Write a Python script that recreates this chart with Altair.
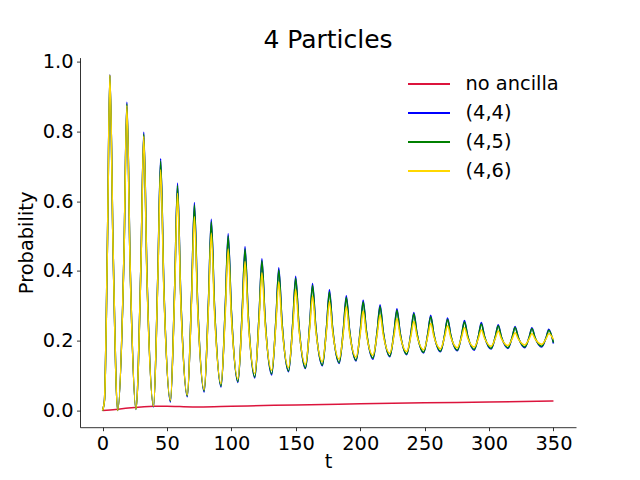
import altair as alt
import pandas as pd

# ---- values ----
start_t = [0.0, 1.5]
first_rise_t = [3.8]
peak_t = [5.7, 18.9, 32.0, 45.1, 58.2, 71.3, 84.4, 97.5, 110.6, 123.7, 136.8,
          149.9, 163.0, 176.1, 189.2, 202.3, 215.4, 228.5, 241.6, 254.7, 267.8,
          280.9, 294.0, 307.1, 320.2, 333.3, 346.4]
fall_t = [8.2, 21.4, 34.5, 47.6, 60.7, 73.8, 86.9, 100.0, 113.1, 126.2, 139.3,
          152.4, 165.5, 178.6, 191.7, 204.8, 217.9, 231.0, 244.1, 257.2, 270.3,
          283.4, 296.5, 309.6, 322.7, 335.8]
trough_t = [11.8, 25.9, 39.6, 52.7, 65.8, 78.9, 92.0, 105.1, 118.2, 131.3, 144.4,
            157.5, 170.6, 183.7, 196.8, 209.9, 223.0, 236.1, 249.2, 262.3, 275.4,
            288.5, 301.6, 314.7, 327.8, 340.9]
rise_t = [16.7, 29.8, 42.9, 56.0, 69.1, 82.2, 95.3, 108.4, 121.5, 134.6, 147.7,
          160.8, 173.9, 187.0, 200.1, 213.2, 226.3, 239.4, 252.5, 265.6, 278.7,
          291.8, 304.9, 318.0, 331.1, 344.2]
end_t = [350.0]

start_p = [0.000, 0.030]

blue_first_rise = [0.48]
blue_peaks = [0.963, 0.884, 0.798, 0.722, 0.652, 0.596, 0.548, 0.507, 0.470, 0.435,
              0.409, 0.385, 0.364, 0.346, 0.329, 0.316, 0.303, 0.292, 0.281, 0.273,
              0.265, 0.258, 0.252, 0.246, 0.241, 0.237, 0.233]
blue_mids = [0.460, 0.420, 0.385, 0.355, 0.330, 0.310, 0.300, 0.285, 0.273, 0.262,
             0.254, 0.247, 0.241, 0.236, 0.232, 0.228, 0.226, 0.223, 0.221, 0.218,
             0.216, 0.214, 0.212, 0.211, 0.210, 0.208]
blue_troughs = [0.000, 0.003, 0.010, 0.024, 0.039, 0.053, 0.067, 0.080, 0.093, 0.102,
                0.111, 0.120, 0.128, 0.135, 0.142, 0.147, 0.154, 0.160, 0.165, 0.168,
                0.171, 0.173, 0.176, 0.178, 0.180, 0.182]
blue_end = [0.192]

green_first_rise = [0.48]
green_peaks = [0.960, 0.879, 0.792, 0.715, 0.645, 0.589, 0.541, 0.500, 0.463, 0.429,
               0.403, 0.379, 0.358, 0.340, 0.324, 0.311, 0.298, 0.287, 0.277, 0.269,
               0.261, 0.254, 0.248, 0.243, 0.238, 0.234, 0.230]
green_mids = [0.459, 0.419, 0.384, 0.354, 0.329, 0.309, 0.299, 0.284, 0.272, 0.261,
              0.253, 0.246, 0.240, 0.235, 0.231, 0.228, 0.225, 0.222, 0.220, 0.218,
              0.216, 0.214, 0.212, 0.211, 0.209, 0.208]
green_troughs = [0.000, 0.004, 0.012, 0.027, 0.042, 0.056, 0.070, 0.083, 0.096, 0.105,
                 0.113, 0.122, 0.130, 0.137, 0.144, 0.150, 0.156, 0.162, 0.167, 0.170,
                 0.173, 0.175, 0.178, 0.180, 0.182, 0.184]
green_end = [0.195]

gold_first_rise = [0.48]
gold_peaks = [0.962, 0.874, 0.786, 0.690, 0.623, 0.556, 0.508, 0.463, 0.427, 0.395,
              0.369, 0.347, 0.328, 0.312, 0.298, 0.285, 0.274, 0.264, 0.255, 0.250,
              0.243, 0.237, 0.231, 0.228, 0.223, 0.221, 0.220]
gold_mids = [0.460, 0.417, 0.375, 0.343, 0.317, 0.296, 0.281, 0.268, 0.258, 0.249,
             0.240, 0.235, 0.230, 0.226, 0.222, 0.219, 0.216, 0.214, 0.213, 0.212,
             0.210, 0.208, 0.207, 0.206, 0.205, 0.205]
gold_troughs = [0.000, 0.004, 0.013, 0.030, 0.045, 0.060, 0.077, 0.091, 0.106, 0.115,
                0.123, 0.132, 0.140, 0.147, 0.153, 0.158, 0.164, 0.169, 0.174, 0.177,
                0.180, 0.182, 0.184, 0.186, 0.188, 0.190]
gold_end = [0.204]

red_t = [0, 10, 20, 30, 40, 50, 60, 75, 100, 125, 150, 200, 250, 300, 350]
red_p = [0.000, 0.003, 0.007, 0.010, 0.012, 0.012, 0.011, 0.010, 0.012, 0.014,
         0.016, 0.019, 0.022, 0.024, 0.027]

series_names = ["no ancilla", "(4,4)", "(4,5)", "(4,6)"]
series_colors = ["#DC143C", "#0000FF", "#008000", "#FFD700"]

FONT = "DejaVu Sans"


def osc_rows(name, first_rise, peaks, mids, troughs, end):
    rows = [(t, p, name) for t, p in zip(start_t, start_p)]
    rows.append((first_rise_t[0], first_rise[0], name))
    for i, (tp, vp) in enumerate(zip(peak_t, peaks)):
        rows.append((tp, vp, name))
        if i < len(trough_t):
            rows.append((fall_t[i], mids[i], name))
            rows.append((trough_t[i], troughs[i], name))
            rows.append((rise_t[i], mids[i], name))
    rows.append((end_t[0], end[0], name))
    return rows


rows = [(t, p, series_names[0]) for t, p in zip(red_t, red_p)]
rows += osc_rows(series_names[1], blue_first_rise, blue_peaks, blue_mids, blue_troughs, blue_end)
rows += osc_rows(series_names[2], green_first_rise, green_peaks, green_mids, green_troughs, green_end)
rows += osc_rows(series_names[3], gold_first_rise, gold_peaks, gold_mids, gold_troughs, gold_end)
df = pd.DataFrame(rows, columns=["t", "p", "series"])

color = alt.Color(
    "series:N",
    scale=alt.Scale(domain=series_names, range=series_colors),
    legend=alt.Legend(
        title=None,
        orient="none",
        legendX=337.5,
        legendY=15,
        symbolType="M-2,0H2",
        symbolSize=441,
        symbolStrokeWidth=2,
        symbolFillColor="transparent",
        labelFontSize=19.4,
        labelFont=FONT,
        labelColor="black",
        labelOffset=25,
        rowPadding=8,
        padding=0,
    ),
)

x = alt.X(
    "t:Q",
    scale=alt.Scale(domain=[-17.5, 367.5], nice=False, zero=False),
    axis=alt.Axis(values=[0, 50, 100, 150, 200, 250, 300, 350], title="t", format="d"),
)
y = alt.Y(
    "p:Q",
    scale=alt.Scale(domain=[-0.048, 1.0118], nice=False, zero=False),
    axis=alt.Axis(values=[0, 0.2, 0.4, 0.6, 0.8, 1.0], title="Probability", format=".1f"),
)

layers = []
for name in series_names:
    layers.append(
        alt.Chart(df)
        .transform_filter(alt.datum.series == name)
        .mark_line(strokeWidth=1.5, interpolate="monotone")
        .encode(x=x, y=y, color=color)
    )

chart = (
    alt.layer(*layers)
    .properties(
        width=496,
        height=369.6,
        title=alt.TitleParams(
            "4 Particles",
            fontSize=25,
            font=FONT,
            fontWeight="normal",
            color="black",
            anchor="middle",
            offset=-1,
        ),
        autosize=alt.AutoSizeParams(type="none"),
        padding={"left": 72, "top": 49.6, "right": 56, "bottom": 44.8},
    )
    .configure_view(stroke=None)
    .configure_axis(
        grid=False,
        domainColor="black",
        domainWidth=0.8,
        tickColor="black",
        tickWidth=0.8,
        tickSize=3.5,
        labelPadding=3.5,
        labelFont=FONT,
        labelFontSize=19.4,
        labelColor="black",
        titleFont=FONT,
        titleFontSize=19.4,
        titleFontWeight="normal",
        titleColor="black",
    )
    .configure_axisX(titlePadding=0)
    .configure_axisY(titlePadding=6)
)

chart.save("out.html", embed_options={"renderer": "svg", "actions": False})
